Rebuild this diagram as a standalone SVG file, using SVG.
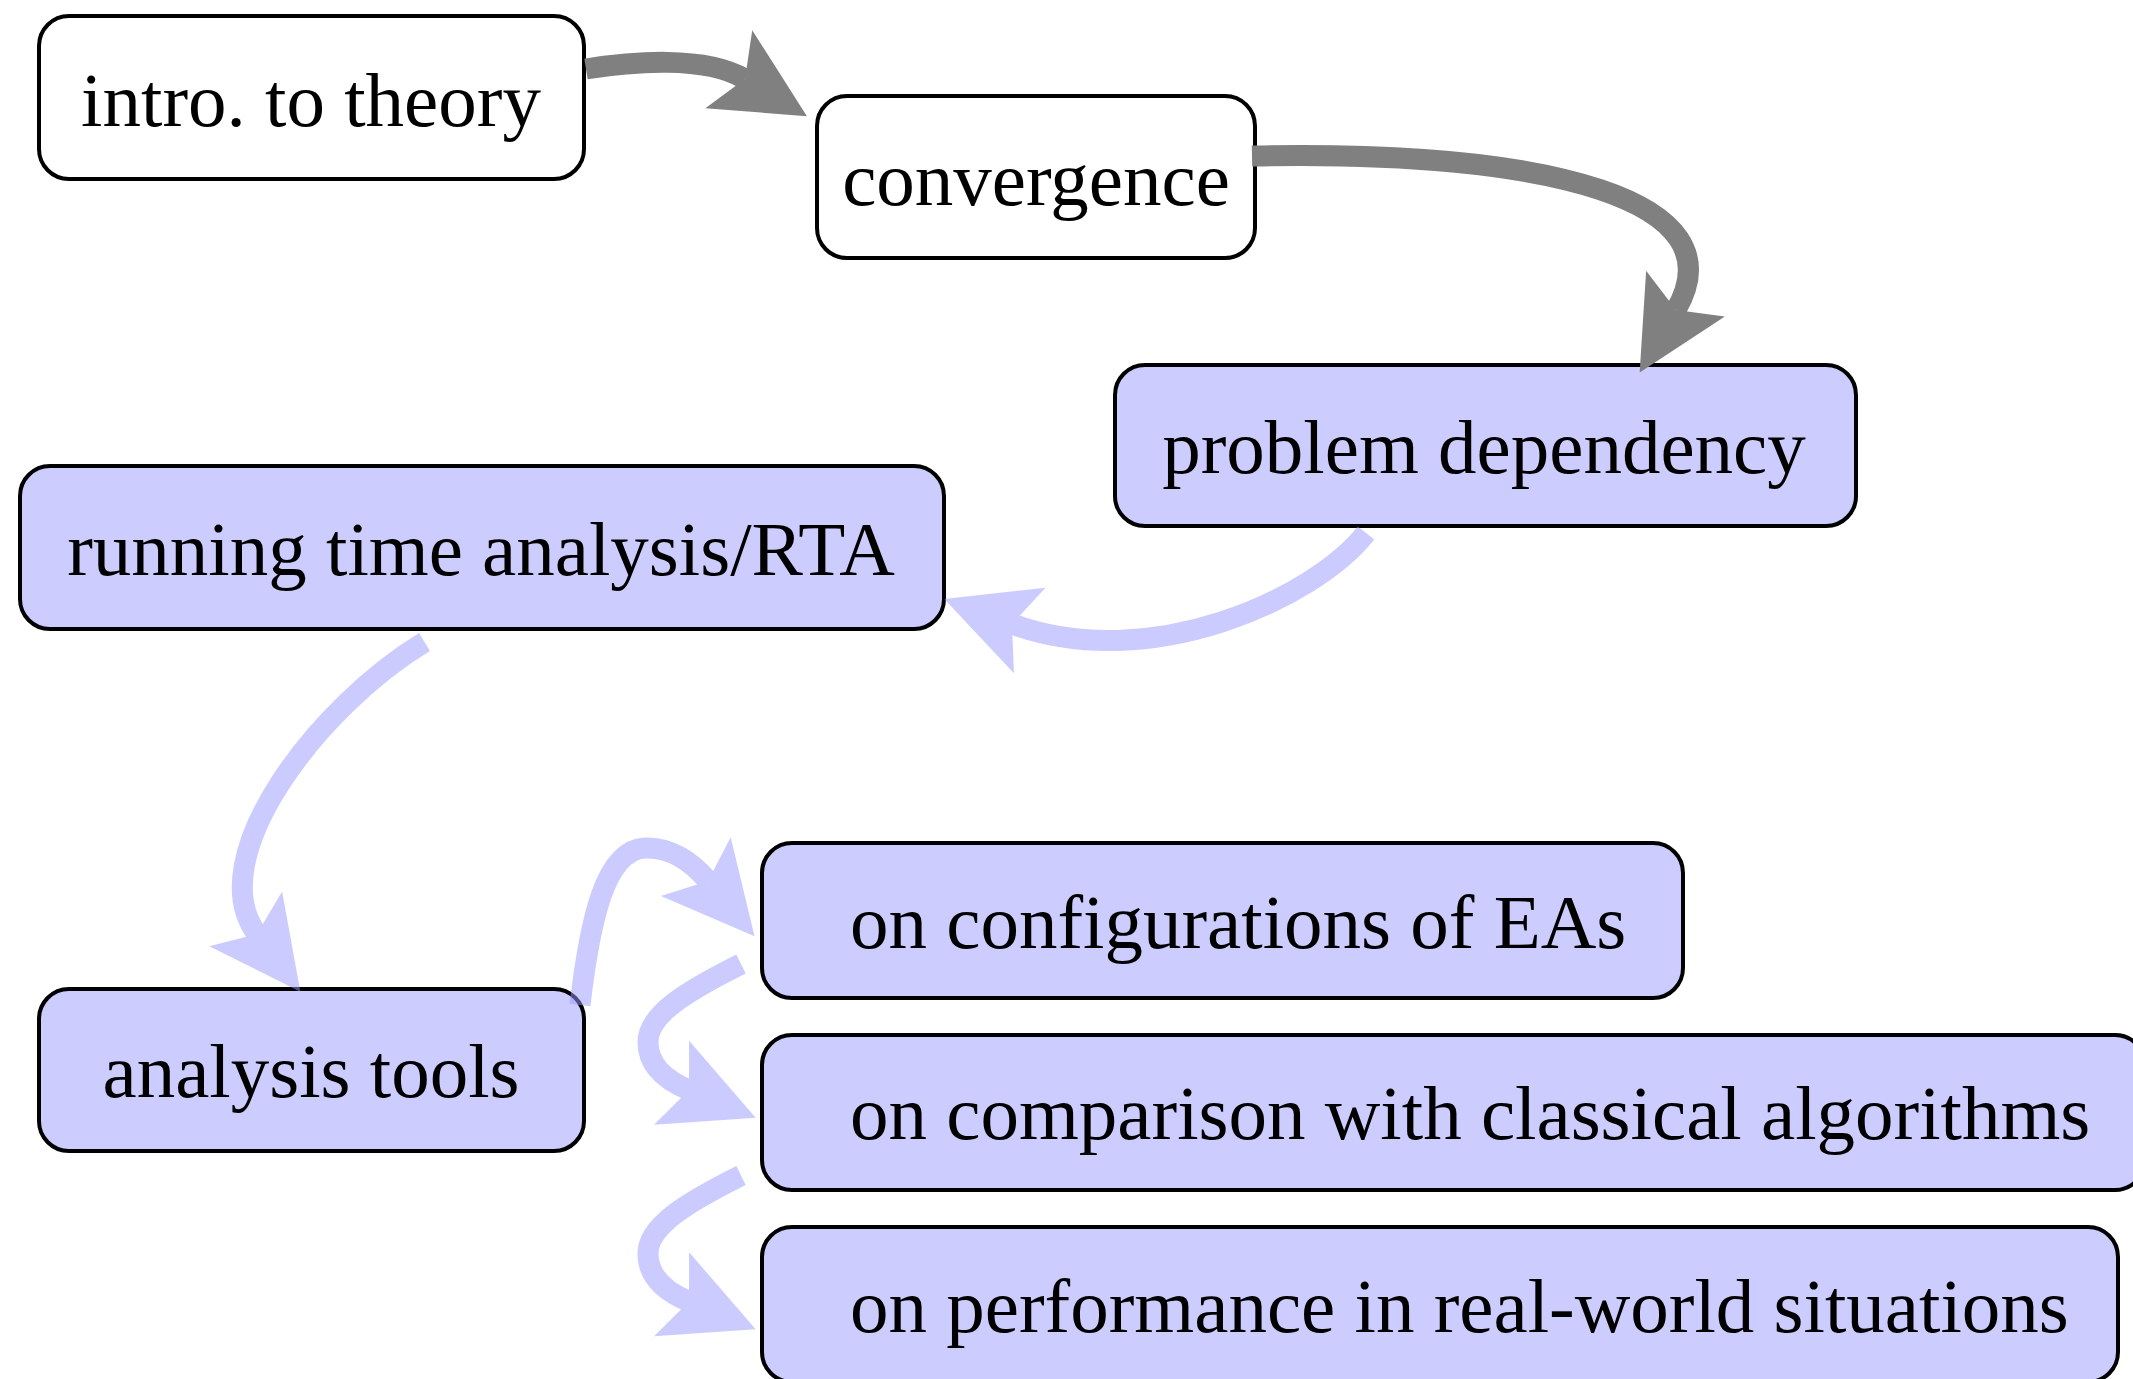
<svg xmlns="http://www.w3.org/2000/svg" width="2133" height="1379" viewBox="0 0 2133 1379">
  <style>
    .box { stroke: #000; stroke-width: 4; }
    .white { fill: #ffffff; }
    .blue { fill: #ccccff; }
    .lbl { font-family: "Liberation Serif", "Times New Roman", serif; font-size: 77px; fill: #000; }
    .mid { text-anchor: middle; }
    .gray { fill: none; stroke: #808080; stroke-width: 21; marker-end: url(#ah-gray); }
    .bl { fill: none; stroke: #9999ff; stroke-width: 21; marker-end: url(#ah-blue); }
  </style>
  <defs>
    <marker id="ah-gray" markerUnits="userSpaceOnUse" markerWidth="100" markerHeight="100" viewBox="-20 -45 90 90" refX="0" refY="0" orient="auto" overflow="visible">
      <path d="M65,0 L-17,-41 L0,0 L-17,41 Z" fill="#808080"/>
    </marker>
    <marker id="ah-blue" markerUnits="userSpaceOnUse" markerWidth="100" markerHeight="100" viewBox="-20 -45 90 90" refX="0" refY="0" orient="auto" overflow="visible">
      <path d="M65,0 L-17,-41 L0,0 L-17,41 Z" fill="#9999ff"/>
    </marker>
  </defs>
  <rect width="2133" height="1379" fill="#ffffff"/>

  <g id="node-intro">
    <rect class="box white" x="39" y="16" width="545" height="163" rx="30" ry="30"/>
    <text class="lbl mid" x="311" y="126">intro. to theory</text>
  </g>
  <g id="node-convergence">
    <rect class="box white" x="817" y="96" width="438" height="162" rx="30" ry="30"/>
    <text class="lbl mid" x="1036" y="205">convergence</text>
  </g>
  <g id="node-problem">
    <rect class="box blue" x="1115" y="365" width="741" height="161" rx="30" ry="30"/>
    <text class="lbl mid" x="1484" y="473">problem dependency</text>
  </g>
  <g id="node-rta">
    <rect class="box blue" x="20" y="466" width="924" height="163" rx="30" ry="30"/>
    <text class="lbl mid" x="481" y="575">running time analysis/RTA</text>
  </g>
  <g id="node-tools">
    <rect class="box blue" x="39" y="989" width="545" height="162" rx="30" ry="30"/>
    <text class="lbl mid" x="311" y="1097">analysis tools</text>
  </g>
  <g id="node-config">
    <rect class="box blue" x="762" y="843" width="921" height="155" rx="30" ry="30"/>
    <text class="lbl" x="850" y="948">on configurations of EAs</text>
  </g>
  <g id="node-comparison">
    <rect class="box blue" x="762" y="1035" width="1383" height="155" rx="30" ry="30"/>
    <text class="lbl" x="850" y="1139">on comparison with classical algorithms</text>
  </g>
  <g id="node-performance">
    <rect class="box blue" x="762" y="1227" width="1356" height="155" rx="30" ry="30"/>
    <text class="lbl" x="850" y="1332">on performance in real-world situations</text>
  </g>

  <g id="connectors">
    <path class="gray" d="M586,69 C630,62 705,55 745,79"/>
    <path class="gray" d="M1252,156 C1550,150 1740,200 1676,310"/>
    <g opacity="0.5"><path class="bl" d="M1366,533 C1315,598 1150,675 1012,624"/></g>
    <g opacity="0.5"><path class="bl" d="M424.5,642 C320,705 200,858 257,934"/></g>
    <g opacity="0.5"><path class="bl" d="M580,1005 C590,920 605,850 645,848 C670,847 692,862 708,881"/></g>
    <g opacity="0.5"><path class="bl" d="M741,964 C685,992 648,1015 648,1042 C648,1065 665,1080 689,1090"/></g>
    <g opacity="0.5"><path class="bl" d="M741,1175.5 C685,1203.5 648,1226.5 648,1253.5 C648,1276.5 665,1291.5 689,1301.5"/></g>
  </g>
</svg>
